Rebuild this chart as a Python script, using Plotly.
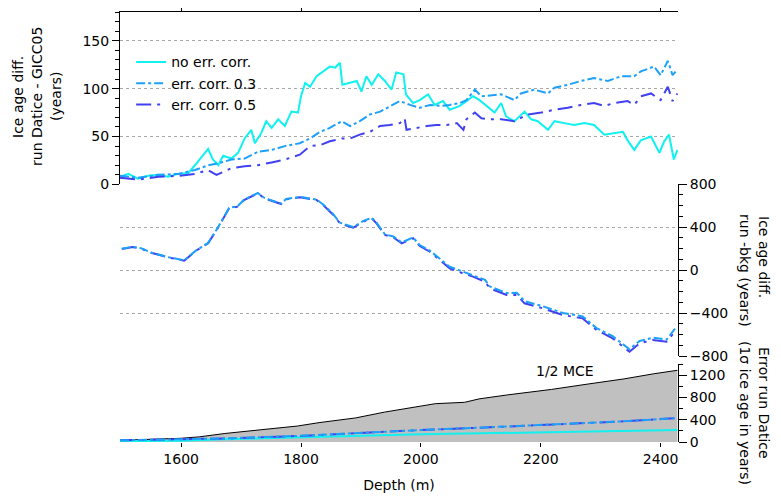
import plotly.graph_objects as go

# ---- top panel: ice age diff. run Datice - GICC05 (years)
depth_nocorr = [1498, 1512, 1528, 1545, 1562, 1578, 1595, 1612, 1623, 1634, 1645, 1653, 1662, 1670,
                1684, 1695, 1706, 1717, 1723, 1734, 1742, 1751, 1762, 1773, 1784, 1795, 1800, 1807,
                1815, 1826, 1837, 1848, 1857, 1865, 1869, 1882, 1893, 1901, 1909, 1918, 1929, 1940,
                1951, 1959, 1971, 1975, 1987, 1998, 2012, 2023, 2037, 2048, 2065, 2076, 2087, 2098,
                2112, 2123, 2134, 2142, 2156, 2173, 2184, 2195, 2212, 2223, 2239, 2256, 2273, 2289,
                2306, 2323, 2337, 2345, 2356, 2367, 2384, 2398, 2406, 2414, 2422, 2428]
diff_nocorr = [8, 11, 6, 9, 10, 8, 11, 12, 20, 29, 37, 26, 20, 30,
               27, 33, 48, 57, 43, 54, 66, 59, 68, 61, 76, 75, 92, 106,
               102, 113, 118, 123, 122, 127, 104, 106, 108, 97, 113, 104, 115, 108,
               99, 117, 115, 94, 85, 88, 94, 83, 87, 78, 82, 87, 92, 88,
               81, 75, 85, 71, 66, 76, 68, 66, 57, 66, 64, 62, 64, 62,
               52, 54, 55, 46, 36, 46, 50, 33, 45, 52, 26, 36]

depth_corr03 = [1498, 1528, 1562, 1595, 1623, 1645, 1662, 1684, 1706, 1728, 1751, 1773, 1798, 1815,
                1832, 1848, 1868, 1882, 1898, 1915, 1932, 1948, 1965, 1982, 1998, 2015, 2032, 2048,
                2065, 2076, 2090, 2101, 2115, 2134, 2156, 2167, 2189, 2212, 2223, 2245, 2267, 2289,
                2312, 2334, 2356, 2367, 2389, 2400, 2412, 2420, 2428]
diff_corr03 = [9, 7, 10, 11, 15, 20, 22, 26, 27, 34, 36, 40, 43, 48,
               55, 59, 66, 61, 66, 73, 76, 81, 87, 83, 80, 83, 82, 83,
               85, 88, 99, 92, 93, 94, 88, 95, 99, 95, 101, 104, 108, 111,
               108, 113, 113, 118, 123, 114, 129, 114, 120]

depth_corr05 = [1498, 1528, 1562, 1595, 1623, 1645, 1659, 1684, 1706, 1728, 1751, 1773, 1798, 1815,
                1832, 1848, 1868, 1882, 1898, 1915, 1932, 1948, 1965, 1973, 1976, 1993, 2010, 2026,
                2043, 2060, 2071, 2076, 2090, 2101, 2115, 2134, 2156, 2178, 2201, 2223, 2245, 2267,
                2289, 2306, 2323, 2345, 2356, 2367, 2384, 2400, 2412, 2420, 2428]
diff_corr05 = [7, 5, 8, 9, 11, 15, 10, 17, 19, 20, 23, 26, 31, 40,
               41, 45, 48, 48, 52, 55, 61, 62, 64, 69, 57, 59, 61, 62,
               62, 64, 57, 68, 75, 69, 68, 68, 66, 73, 75, 78, 80, 83,
               85, 82, 85, 87, 83, 92, 95, 88, 102, 87, 95]

# ---- middle panel: ice age diff. run - bkg (years)
depth_bkg = [1501, 1519, 1533, 1550, 1578, 1605, 1625, 1645, 1661, 1680, 1694, 1705, 1728, 1739,
             1767, 1775, 1798, 1826, 1837, 1854, 1865, 1887, 1904, 1918, 1926, 1940, 1954, 1968,
             1987, 1998, 2015, 2048, 2070, 2087, 2107, 2115, 2143, 2160, 2173, 2204, 2237, 2254,
             2270, 2293, 2320, 2348, 2365, 2387, 2410, 2426]
bkg_corr05 = [195, 214, 200, 160, 118, 87, 180, 248, 388, 574, 589, 651, 713, 667,
              614, 657, 676, 651, 605, 512, 434, 393, 450, 481, 434, 326, 304, 248,
              295, 223, 170, 16, -31, -62, -109, -170, -233, -233, -310, -357, -419, -434,
              -450, -558, -636, -760, -682, -651, -667, -558]
bkg_corr03 = [198, 216, 203, 162, 120, 90, 182, 252, 392, 578, 592, 655, 716, 670,
              618, 660, 680, 655, 610, 518, 440, 400, 456, 486, 440, 332, 312, 256,
              302, 232, 180, 30, -15, -48, -92, -152, -215, -212, -290, -338, -400, -415,
              -432, -540, -615, -738, -660, -630, -648, -530]

# ---- bottom panel: error run Datice (1 sigma ice age in years)
depth_mce = [1498, 1600, 1630, 1673, 1733, 1794, 1830, 1891, 1939, 1988, 2024, 2073, 2097,
             2145, 2218, 2279, 2339, 2388, 2428]
half_mce = [30, 67, 92, 153, 220, 287, 348, 433, 537, 628, 689, 714, 775,
            848, 946, 1043, 1135, 1226, 1290]

depth_err = [1498, 1600, 1673, 1794, 1915, 2000, 2091, 2212, 2333, 2428]
err_corr03 = [30, 50, 65, 110, 175, 215, 255, 310, 370, 430]
err_corr05 = [30, 49, 64, 108, 173, 214, 254, 309, 368, 432]
depth_err0 = [1498, 1600, 1673, 1794, 2000, 2212, 2428]
err_nocorr = [15, 22, 50, 85, 140, 175, 215]

depth_ticks = [1600, 1800, 2000, 2200, 2400]

CYAN = '#12F0F0'
LIGHT = '#1CA0FA'
DARK = '#4141F2'
FONT = 'DejaVu Sans'

fig = go.Figure()

# top panel
fig.add_trace(go.Scatter(x=depth_nocorr, y=diff_nocorr, mode='lines', name='no err. corr.',
                         line=dict(color=CYAN, width=2), xaxis='x2', yaxis='y'))
fig.add_trace(go.Scatter(x=depth_corr03, y=diff_corr03, mode='lines', name='err. corr. 0.3',
                         line=dict(color=LIGHT, width=2, dash='dashdot'), xaxis='x2', yaxis='y'))
fig.add_trace(go.Scatter(x=depth_corr05, y=diff_corr05, mode='lines', name='err. corr. 0.5',
                         line=dict(color=DARK, width=2, dash='longdashdot'), xaxis='x2', yaxis='y'))

# middle panel
fig.add_trace(go.Scatter(x=depth_bkg, y=bkg_corr05, mode='lines', showlegend=False,
                         line=dict(color=DARK, width=2, dash='longdashdot'), xaxis='x3', yaxis='y2'))
fig.add_trace(go.Scatter(x=depth_bkg, y=bkg_corr03, mode='lines', showlegend=False,
                         line=dict(color=LIGHT, width=2, dash='dashdot'), xaxis='x3', yaxis='y2'))

# bottom panel
fig.add_trace(go.Scatter(x=depth_mce, y=half_mce, mode='lines', showlegend=False, fill='tozeroy',
                         fillcolor='#C0C0C0', line=dict(color='black', width=1),
                         xaxis='x', yaxis='y3'))
fig.add_trace(go.Scatter(x=depth_err0, y=err_nocorr, mode='lines', showlegend=False,
                         line=dict(color=CYAN, width=2), xaxis='x', yaxis='y3'))
fig.add_trace(go.Scatter(x=depth_err, y=err_corr05, mode='lines', showlegend=False,
                         line=dict(color=DARK, width=2, dash='longdashdot'), xaxis='x', yaxis='y3'))
fig.add_trace(go.Scatter(x=depth_err, y=err_corr03, mode='lines', showlegend=False,
                         line=dict(color=LIGHT, width=2, dash='dashdot'), xaxis='x', yaxis='y3'))

xr = [1498, 2429]
grid = dict(showgrid=True, gridcolor='#A8A8A8', griddash='dot', gridwidth=1)

# the page body adds an 8px offset, so margins are shifted to compensate
fig.update_layout(
    width=781, height=499,
    margin=dict(l=112, r=111, t=4, b=65, autoexpand=False),
    paper_bgcolor='white', plot_bgcolor='white',
    font=dict(family=FONT, size=14, color='black'),
    showlegend=True,
    legend=dict(x=0.02, y=0.92, xanchor='left', yanchor='top', bgcolor='rgba(0,0,0,0)',
                font=dict(size=14), tracegroupgap=0, itemwidth=30),
    xaxis=dict(domain=[0, 1], anchor='y3', range=xr, tickvals=depth_ticks, automargin=False,
               ticks='outside', ticklen=4, tickcolor='black', showline=False, showgrid=False,
               zeroline=False,
               title=dict(text='Depth (m)', standoff=14, font=dict(size=14))),
    xaxis2=dict(domain=[0, 1], anchor='y', range=xr, side='top', tickvals=depth_ticks,
                ticks='outside', ticklen=5, tickcolor='black', showticklabels=False, automargin=False,
                showline=True, linecolor='black', linewidth=1, showgrid=False, zeroline=False),
    xaxis3=dict(domain=[0, 1], anchor='y2', range=xr, visible=False, automargin=False),
    yaxis=dict(domain=[0.599, 1], anchor='x2', range=[0, 180], tickvals=[0, 50, 100, 150],
               ticks='outside', ticklen=7, tickcolor='black', showline=True, linecolor='black',
               zeroline=False, automargin=False,
               minor=dict(dtick=10, ticks='outside', ticklen=4, tickcolor='black', showgrid=False),
               **grid),
    yaxis2=dict(domain=[0.2, 0.6], anchor='x3', side='right', range=[-800, 800],
                tickvals=[-800, -400, 0, 400, 800], ticks='outside', ticklen=8, tickcolor='black',
                showline=True, linecolor='black', zeroline=False, automargin=False,
                minor=dict(dtick=100, ticks='outside', ticklen=4, tickcolor='black', showgrid=False),
                **grid),
    yaxis3=dict(domain=[0, 0.181], anchor='x', side='right', range=[0, 1400],
                tickvals=[0, 400, 800, 1200], ticks='outside', ticklen=8, tickcolor='black',
                showline=True, linecolor='black', zeroline=False, showgrid=False, automargin=False,
                minor=dict(dtick=200, ticks='outside', ticklen=4, tickcolor='black')),
)


def px(x):
    return (x - 120) / 558


def py(y):
    return (442 - y) / 430


def label(txt, x, y, angle=0):
    fig.add_annotation(text=txt, x=px(x), y=py(y), xref='paper', yref='paper',
                       xanchor='center', yanchor='middle', textangle=angle,
                       showarrow=False, font=dict(size=14))


# left title, three lines
for txt, xx in [('Ice age diff.', 18), ('run Datice - GICC05', 37), ('(years)', 56)]:
    label(txt, xx, 97, -90)

# right titles
for txt, xx, yy in [('Ice age diff.', 764, 257), ('run -bkg (years)', 745, 270),
                    ('Error run Datice', 764, 403), ('(1σ ice age in years)', 745, 413)]:
    label(txt, xx, yy, 90)

label('1/2 MCE', 565, 371)

fig.write_html("out.html")
